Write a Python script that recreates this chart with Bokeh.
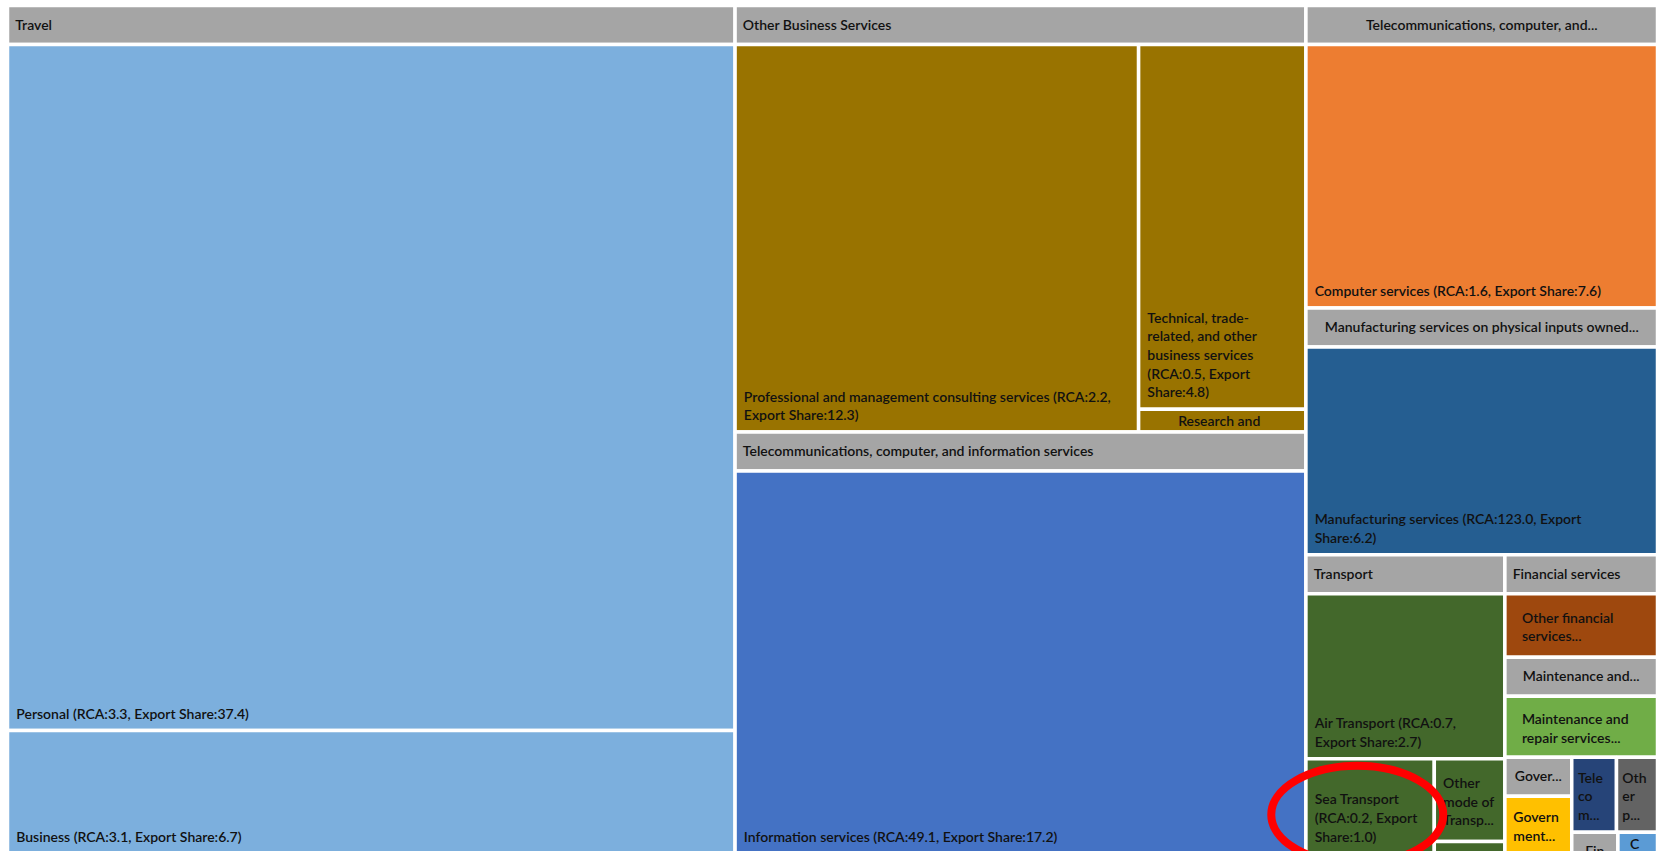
from bokeh.plotting import figure
from bokeh.models import Range1d
from bokeh.core.properties import value
from bokeh.embed import file_html
from bokeh.resources import INLINE

# ---------------- data ----------------
group_names = [
    "Travel",
    "Other Business Services",
    "Telecommunications, computer, and information services",
    "Telecommunications, computer, and information services",
    "Manufacturing services on physical inputs owned by others",
    "Transport",
    "Financial services",
    "Maintenance and repair services n.i.e.",
    "Government goods and services n.i.e.",
    None,
    None,
    "Financial services",
    None,
]
group_shown = [
    "Travel",
    "Other Business Services",
    "Telecommunications, computer, and information services",
    "Telecommunications, computer, and...",
    "Manufacturing services on physical inputs owned...",
    "Transport",
    "Financial services",
    "Maintenance and...",
    "Gover...",
    None,
    None,
    "Fin",
    None,
]
leaf_group = [0, 0, 1, 1, 1, 2, 3, 4, 5, 5, 5, 5, 6, 7, 8, 9, 10, 11, 12]
leaf_share = [37.4, 6.7, 12.3, 4.8, 0.3, 17.2, 7.6, 6.2, 2.7, 1.0, 0.48, 0.07,
              1.12, 1.09, 0.46, 0.24, 0.22, 0.07, 0.06]
leaf_labels = [
    "Personal (RCA:3.3, Export Share:37.4)",
    "Business (RCA:3.1, Export Share:6.7)",
    "Professional and management consulting services (RCA:2.2,\nExport Share:12.3)",
    "Technical, trade-\nrelated, and other\nbusiness services\n(RCA:0.5, Export\nShare:4.8)",
    "Research and\ndevelopment...",
    "Information services (RCA:49.1, Export Share:17.2)",
    "Computer services (RCA:1.6, Export Share:7.6)",
    "Manufacturing services (RCA:123.0, Export\nShare:6.2)",
    "Air Transport (RCA:0.7,\nExport Share:2.7)",
    "Sea Transport\n(RCA:0.2, Export\nShare:1.0)",
    "Other\nmode of\nTransp...",
    "",
    "Other financial\nservices...",
    "Maintenance and\nrepair services...",
    "Govern\nment...",
    "Tele\nco\nm...",
    "Oth\ner\np...",
    "",
    "C\non\ns...",
]

# ---------------- styles ----------------
group_colors = ["#7CAFDD", "#997300", "#4472C4", "#ED7D31", "#255E91", "#43682B",
                "#9E480E", "#70AD47", "#FFC000", "#264478", "#636363", "#A5A5A5", "#5B9BD5"]
BANNER_COLOR = "#A5A5A5"
TEXT_COLOR = "#111111"
BANNER = 39.0
GAP = 3.5
FONT = "Lato Semibold, Lato"
FS = 14.0
LH_MULT = 1.1
LH = 18.5   # resulting line pitch in px

# chart box in page pixels
X0, Y0, W, H = 7.0, 5.0, 1650.0, 848.0
PW, PH = 1657, 851


def worst(row, side):
    s = sum(row)
    return max(max(side * side * r / (s * s), (s * s) / (side * side * r)) for r in row)


def _sq(areas, x, y, dx, dy, out):
    if not areas:
        return
    if len(areas) == 1:
        out.append((x, y, dx, dy))
        return
    side = min(dx, dy)
    i = 1
    while i < len(areas) and worst(areas[:i + 1], side) <= worst(areas[:i], side):
        i += 1
    row = areas[:i]
    s = sum(row)
    if dx >= dy:
        w = s / dy
        yy = y
        for a in row:
            h = a / w
            out.append((x, yy, w, h))
            yy += h
        _sq(areas[i:], x + w, y, dx - w, dy, out)
    else:
        h = s / dx
        xx = x
        for a in row:
            w = a / h
            out.append((xx, y, w, h))
            xx += w
        _sq(areas[i:], x, y + h, dx, dy - h, out)


def squarify(vals, x, y, dx, dy):
    tot = sum(vals)
    areas = [v * dx * dy / tot for v in vals]
    out = []
    _sq(areas, x, y, dx, dy, out)
    return out


n_groups = len(group_names)
group_values = [sum(s for s, g in zip(leaf_share, leaf_group) if g == k) for k in range(n_groups)]
group_rects = squarify(group_values, X0, Y0, W, H)

p = figure(width=PW, height=PH, x_range=Range1d(0, PW), y_range=Range1d(PH, 0),
           output_backend="svg", toolbar_location=None, min_border=0,
           x_axis_location=None, y_axis_location=None)
p.grid.visible = False
p.outline_line_color = None
p.background_fill_color = "white"
p.border_fill_color = "white"


def draw_rect(x, y, w, h, color):
    p.quad(left=[x], right=[x + w], top=[y], bottom=[y + h],
           fill_color=color, line_color="white", line_width=GAP)


def draw_text(x, y, txt, align, baseline):
    p.text(x=[x], y=[y], text=[txt], text_align=align, text_baseline=baseline,
           text_font=value(FONT), text_font_size=f"{FS}px", text_line_height=LH_MULT,
           text_color=TEXT_COLOR)


leaf_rects = {}
for k in range(n_groups):
    gx, gy, gw, gh = group_rects[k]
    if group_shown[k]:
        draw_rect(gx, gy, gw, BANNER, BANNER_COLOR)
        if group_shown[k] != group_names[k]:
            draw_text(gx + gw / 2, gy + BANNER / 2 - 1, group_shown[k], "center", "middle")
        else:
            draw_text(gx + GAP / 2 + 6, gy + BANNER / 2 - 1, group_shown[k], "left", "middle")
        cy, ch = gy + BANNER, gh - BANNER
    else:
        cy, ch = gy, gh
    idx = [i for i in range(len(leaf_group)) if leaf_group[i] == k]
    if ch <= 0:
        continue
    rects = squarify([leaf_share[i] for i in idx], gx, cy, gw, ch)
    for i, (lx, ly, lw, lh) in zip(idx, rects):
        leaf_rects[i] = (lx, ly, lw, lh)
        draw_rect(lx, ly, lw, lh, group_colors[k])
        lab = leaf_labels[i]
        if not lab or lh < 15:
            continue
        lines = lab.split("\n")
        if "..." in lab:
            if len(lines) * LH > lh - GAP:
                draw_text(lx + lw / 2 - 3, ly + GAP / 2 + 1, lab, "center", "top")
            else:
                draw_text(lx + GAP / 2 + 0.1 * lw, ly + lh / 2 + 1, lab, "left", "middle")
        else:
            draw_text(lx + GAP / 2 + 7, ly + lh - GAP / 2 - 7, lab, "left", "bottom")

# red highlight ring round the Sea Transport cell
sea = [i for i, s in enumerate(leaf_labels) if s.startswith("Sea Transport")][0]
sx, sy, sw, sh = leaf_rects[sea]
p.ellipse(x=[sx + 0.40 * sw], y=[sy + 0.59 * sh], width=[1.34 * sw], height=[1.03 * sh],
          fill_color=None, line_color="#FF0000", line_width=8)

open("out.html", "w").write(file_html(p, INLINE))
